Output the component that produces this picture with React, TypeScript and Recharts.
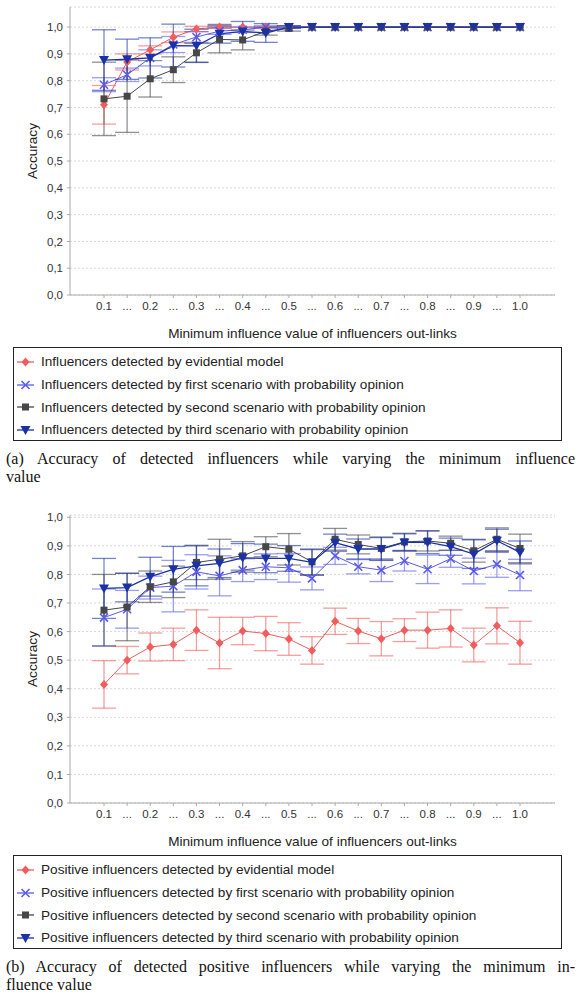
import { CartesianGrid, ErrorBar, Line, LineChart, XAxis, YAxis } from 'recharts'

// x categories (minimum influence value) and the labels shown under them
const categories = [
  '0.1', '0.15', '0.2', '0.25', '0.3', '0.35', '0.4', '0.45', '0.5', '0.55',
  '0.6', '0.65', '0.7', '0.75', '0.8', '0.85', '0.9', '0.95', '1.0',
]
const tickLabels = [
  '0.1', '...', '0.2', '...', '0.3', '...', '0.4', '...', '0.5', '...',
  '0.6', '...', '0.7', '...', '0.8', '...', '0.9', '...', '1.0',
]
const yTicks = [0, 0.1, 0.2, 0.3, 0.4, 0.5, 0.6, 0.7, 0.8, 0.9, 1.0]

// (a) all influencers
const evidentialA = [0.71, 0.87, 0.915, 0.962, 0.993, 1, 1, 1, 1, 1, 1, 1, 1, 1, 1, 1, 1, 1, 1]
const evidentialErrA = [0.072, 0.03, 0.015, 0.02, 0.01, 0.005, 0, 0, 0, 0, 0, 0, 0, 0, 0, 0, 0, 0, 0]
const firstA = [0.785, 0.822, 0.885, 0.935, 0.963, 0.985, 0.99, 1, 1, 1, 1, 1, 1, 1, 1, 1, 1, 1, 1]
const firstErrA = [0.026, 0.025, 0.03, 0.03, 0.02, 0.012, 0.01, 0.005, 0, 0, 0, 0, 0, 0, 0, 0, 0, 0, 0]
const secondA = [0.732, 0.742, 0.807, 0.841, 0.904, 0.954, 0.952, 0.985, 0.995, 1, 1, 1, 1, 1, 1, 1, 1, 1, 1]
const secondErrA = [0.137, 0.135, 0.068, 0.048, 0.035, 0.05, 0.037, 0.015, 0.01, 0, 0, 0, 0, 0, 0, 0, 0, 0, 0]
const thirdA = [0.877, 0.88, 0.885, 0.931, 0.93, 0.975, 0.984, 0.978, 1, 1, 1, 1, 1, 1, 1, 1, 1, 1, 1]
const thirdErrA = [0.113, 0.075, 0.075, 0.08, 0.062, 0.035, 0.037, 0.035, 0.005, 0, 0, 0, 0, 0, 0, 0, 0, 0, 0]

// (b) positive influencers
const evidentialB = [0.415, 0.5, 0.546, 0.555, 0.605, 0.56, 0.602, 0.593, 0.574, 0.534, 0.636, 0.602, 0.575, 0.605, 0.605, 0.611, 0.553, 0.62, 0.561]
const evidentialErrB = [0.083, 0.048, 0.049, 0.057, 0.071, 0.09, 0.048, 0.06, 0.057, 0.048, 0.046, 0.044, 0.06, 0.04, 0.063, 0.065, 0.059, 0.063, 0.075]
const firstB = [0.649, 0.678, 0.754, 0.759, 0.809, 0.795, 0.815, 0.827, 0.823, 0.786, 0.865, 0.827, 0.815, 0.847, 0.818, 0.855, 0.812, 0.835, 0.798]
const firstErrB = [0.1, 0.066, 0.04, 0.09, 0.06, 0.07, 0.04, 0.045, 0.05, 0.04, 0.03, 0.025, 0.04, 0.035, 0.05, 0.03, 0.045, 0.045, 0.055]
const secondB = [0.675, 0.686, 0.757, 0.774, 0.842, 0.853, 0.865, 0.897, 0.888, 0.844, 0.923, 0.905, 0.891, 0.914, 0.917, 0.909, 0.883, 0.923, 0.891]
const secondErrB = [0.125, 0.118, 0.055, 0.055, 0.06, 0.07, 0.05, 0.035, 0.055, 0.045, 0.038, 0.033, 0.04, 0.03, 0.035, 0.025, 0.04, 0.04, 0.05]
const thirdB = [0.751, 0.754, 0.792, 0.818, 0.83, 0.839, 0.858, 0.856, 0.856, 0.842, 0.911, 0.889, 0.889, 0.912, 0.913, 0.897, 0.871, 0.918, 0.877]
const thirdErrB = [0.105, 0.05, 0.068, 0.08, 0.07, 0.05, 0.05, 0.05, 0.045, 0.045, 0.03, 0.035, 0.04, 0.03, 0.04, 0.03, 0.05, 0.04, 0.04]

const legendA = [
  'Influencers detected by evidential model',
  'Influencers detected by first scenario with probability opinion',
  'Influencers detected by second scenario with probability opinion',
  'Influencers detected by third scenario with probability opinion',
]
const legendB = legendA.map((s) => 'Positive ' + s.charAt(0).toLowerCase() + s.slice(1))

const captionA = [
  '(a) Accuracy of detected influencers while varying the minimum influence',
  'value',
]
const captionB = [
  '(b) Accuracy of detected positive influencers while varying the minimum in-',
  'fluence value',
]

type Shape = 'diamond' | 'cross' | 'square' | 'triangle'

const styles: { color: string; shape: Shape; width: number }[] = [
  { color: '#f25c5c', shape: 'diamond', width: 1 },
  { color: '#5a5aec', shape: 'cross', width: 1 },
  { color: '#474747', shape: 'square', width: 1 },
  { color: '#1b32a6', shape: 'triangle', width: 1.3 },
]

const sans = 'Liberation Sans'

function Marker({ shape, cx, cy, color }: { shape: Shape; cx: number; cy: number; color: string }) {
  if (shape === 'diamond') {
    return <polygon points={`${cx},${cy - 4.5} ${cx + 4},${cy} ${cx},${cy + 4.5} ${cx - 4},${cy}`} fill={color} />
  }
  if (shape === 'cross') {
    return (
      <g stroke={color} strokeWidth={1.6}>
        <line x1={cx - 4} y1={cy - 4} x2={cx + 4} y2={cy + 4} />
        <line x1={cx - 4} y1={cy + 4} x2={cx + 4} y2={cy - 4} />
      </g>
    )
  }
  if (shape === 'square') {
    return <rect x={cx - 3.5} y={cy - 3.5} width={7} height={7} fill={color} />
  }
  return <polygon points={`${cx - 5},${cy - 4} ${cx + 5},${cy - 4} ${cx},${cy + 5}`} fill={color} />
}

function Panel({ top, yMax, values, errors, legend, caption }: {
  top: number
  yMax: number
  values: number[][]
  errors: number[][]
  legend: string[]
  caption: string[]
}) {
  const rows = categories.map((x, i) => {
    const row: Record<string, number | string> = { x }
    values.forEach((v, s) => {
      row['s' + s] = v[i]
      row['e' + s] = errors[s][i]
    })
    return row
  })

  return (
    <div style={{ position: 'absolute', left: 0, top, width: 582, height: 500 }}>
      <LineChart width={582} height={342} data={rows} margin={{ top: 7, right: 27, bottom: 0, left: 0 }}>
        <CartesianGrid vertical={false} stroke="#d8d8d8" strokeDasharray="2 2" />
        <XAxis
          dataKey="x"
          scale="point"
          padding={{ left: 34, right: 35 }}
          interval={0}
          height={47}
          tickSize={3}
          tickMargin={4}
          stroke="#aaaaaa"
          tick={{ fontSize: 11.5, fill: '#333', fontFamily: sans }}
          tickFormatter={(_v, i) => tickLabels[i]}
          label={{
            value: 'Minimum influence value of influencers out-links',
            position: 'insideBottom',
            offset: 4,
            style: { fontSize: 13.6, fill: '#222', fontFamily: sans },
          }}
        />
        <XAxis xAxisId="top" orientation="top" dataKey="x" height={0} tick={false} tickLine={false} stroke="#cccccc" />
        <YAxis
          domain={[0, yMax]}
          ticks={yTicks}
          allowDataOverflow
          width={70}
          tickSize={3}
          tickMargin={4}
          stroke="#aaaaaa"
          tick={{ fontSize: 11.5, fill: '#333', fontFamily: sans }}
          tickFormatter={(v: number) => v.toFixed(1).replace('.', ',')}
          label={{
            value: 'Accuracy',
            angle: -90,
            position: 'insideLeft',
            offset: 32,
            style: { textAnchor: 'middle', fontSize: 13.6, fill: '#222', fontFamily: sans },
          }}
        />
        <YAxis yAxisId="right" orientation="right" domain={[0, yMax]} width={0} tick={false} tickLine={false} stroke="#cccccc" />
        {styles.map((st, s) => (
          <Line
            key={s}
            dataKey={'s' + s}
            stroke={st.color}
            strokeWidth={st.width}
            isAnimationActive={false}
            dot={(p: any) => (
              <Marker key={p.index} shape={st.shape} cx={p.cx} cy={p.cy} color={st.color} />
            )}
            activeDot={false}
          >
            <ErrorBar dataKey={'e' + s} direction="y" width={12} stroke={st.color} strokeOpacity={0.6} strokeWidth={1.3} />
          </Line>
        ))}
      </LineChart>

      <div
        style={{
          position: 'absolute',
          left: 13,
          top: 347,
          width: 549,
          height: 94,
          boxSizing: 'border-box',
          border: '1px solid #222',
          paddingTop: 2.5,
          fontFamily: sans,
          fontSize: 13.6,
          color: '#222',
        }}
      >
        {legend.map((label, s) => (
          <div key={s} style={{ height: 22.7, display: 'flex', alignItems: 'center' }}>
            <svg width={21} height={12} style={{ marginLeft: 3, marginRight: 3 }}>
              <line x1={0} y1={6} x2={17} y2={6} stroke={styles[s].color} strokeWidth={1.3} />
              <Marker shape={styles[s].shape} cx={8.5} cy={6} color={styles[s].color} />
            </svg>
            <span>{label}</span>
          </div>
        ))}
      </div>

      <div
        style={{
          position: 'absolute',
          left: 6,
          top: 450,
          width: 569,
          fontFamily: 'Liberation Serif',
          fontSize: 16,
          lineHeight: '17.5px',
          color: '#111',
        }}
      >
        <div style={{ textAlign: 'justify', textAlignLast: 'justify', whiteSpace: 'nowrap' }}>{caption[0]}</div>
        <div>{caption[1]}</div>
      </div>
    </div>
  )
}

export default function App() {
  return (
    <div style={{ position: 'absolute', left: 0, top: 0, width: 582, height: 997, background: '#fff' }}>
      <Panel
        top={0}
        yMax={1.075}
        values={[evidentialA, firstA, secondA, thirdA]}
        errors={[evidentialErrA, firstErrA, secondErrA, thirdErrA]}
        legend={legendA}
        caption={captionA}
      />
      <Panel
        top={508}
        yMax={1.008}
        values={[evidentialB, firstB, secondB, thirdB]}
        errors={[evidentialErrB, firstErrB, secondErrB, thirdErrB]}
        legend={legendB}
        caption={captionB}
      />
    </div>
  )
}
